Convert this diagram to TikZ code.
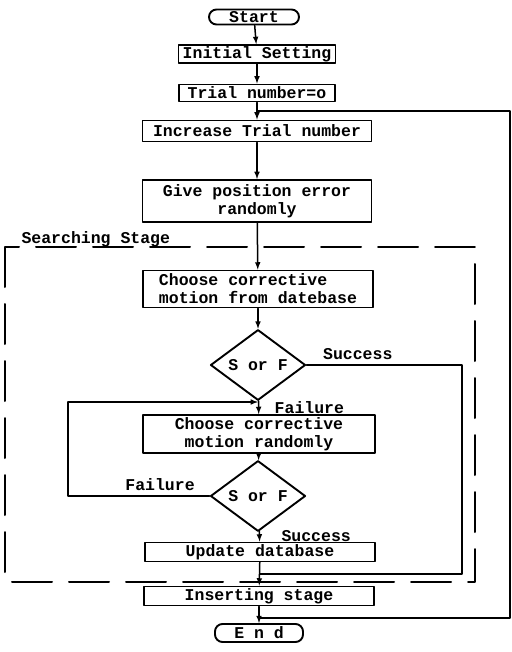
\documentclass[tikz,border=0pt]{standalone}
\usepackage{fontspec}
\setmainfont{Liberation Mono}
\usepackage{tikz}
\tikzset{>=latex}
\usetikzlibrary{shapes,arrows}

\begin{document}
\begin{tikzpicture}[line cap=round,line join=round,x=1pt,y=-1pt,
	font=\fontsize{16.5}{18}\selectfont\bfseries,
	box/.style={draw,line width=1.9pt,inner sep=1pt},
	term/.style={box,rounded corners=7.5pt},
	test/.style={draw,diamond,line width=1.9pt,inner sep=0pt,minimum width=95pt,minimum height=44pt},
	flow/.style={line width=1.5pt},
	stage/.style={line width=2pt,dash pattern=on 40pt off 17pt}]
	\useasboundingbox (0,0) rectangle (511,652);
	\node[term,minimum width=90pt,minimum height=15pt] (start) at (254,17) {Start};
	\node[box,minimum width=157pt,minimum height=18pt] (init) at (257,54) {Initial Setting};
	\node[box,minimum width=156pt,minimum height=17pt] (trial) at (257,93) {Trial number=o};
	\node[box,minimum width=229pt,minimum height=21pt] (incr) at (257,131) {Increase Trial number};
	\node[box,minimum width=229pt,minimum height=42pt,align=center] (give) at (257,201) {Give position error\\randomly};
	\draw[stage] (5,247) rectangle (475,582);
	\node[anchor=west] (stagelbl) at (18,239) {Searching Stage};
	\node[box,minimum width=230pt,minimum height=37pt,align=left] (choosedb) at (258,289) {Choose corrective\\ motion from datebase};
	\node[test] (sf1) at (258,365) {S or F};
	\node[box,minimum width=232pt,minimum height=38pt,align=center] (chooserand) at (259,434) {Choose corrective\\motion randomly};
	\node[test] (sf2) at (258,496) {S or F};
	\node[box,minimum width=230pt,minimum height=19pt] (update) at (260,552) {Update database};
	\node[box,minimum width=230pt,minimum height=19pt] (insert) at (259,596) {Inserting stage};
	\node[term,minimum width=88pt,minimum height=18pt] (end) at (259,633) {E n d};
	\coordinate (succR) at (462,574);
	\coordinate (failL) at (68,402);
	\coordinate (loopR) at (510,618);
	\coordinate (loopT) at (510,111);
	\draw[flow,->] (start) -- (init);
	\draw[flow,->] (init) -- (trial);
	\draw[flow,->] (trial) -- (incr);
	\draw[flow,->] (incr) -- (give);
	\draw[flow,->] (give) -- (choosedb);
	\draw[flow,->] (choosedb) -- (sf1);
	\draw[flow,->] (sf1) -- (chooserand) node[pos=0.5,right=12pt] {Failure};
	\draw[flow] (sf1.east) -- (sf1.east -| succR) node[pos=0.33,above=1pt] {Success} -- (succR) -- (succR -| update.south);
	\draw[flow,->] (chooserand) -- (sf2);
	\draw[flow] (sf2.west) -- (sf2.west -| failL) node[pos=0.35,above=1pt] {Failure} -- (failL);
	\draw[flow,->] (failL) -- (failL -| sf1.south);
	\draw[flow,->] (sf2) -- (update) node[pos=0.5,right=18pt] {Success};
	\draw[flow,->] (update) -- (insert);
	\draw[flow,->] (insert) -- (end);
	\draw[flow] (insert.south |- loopR) -- (loopR) -- (loopT) -- (loopT -| incr.north);
\end{tikzpicture}
\end{document}
